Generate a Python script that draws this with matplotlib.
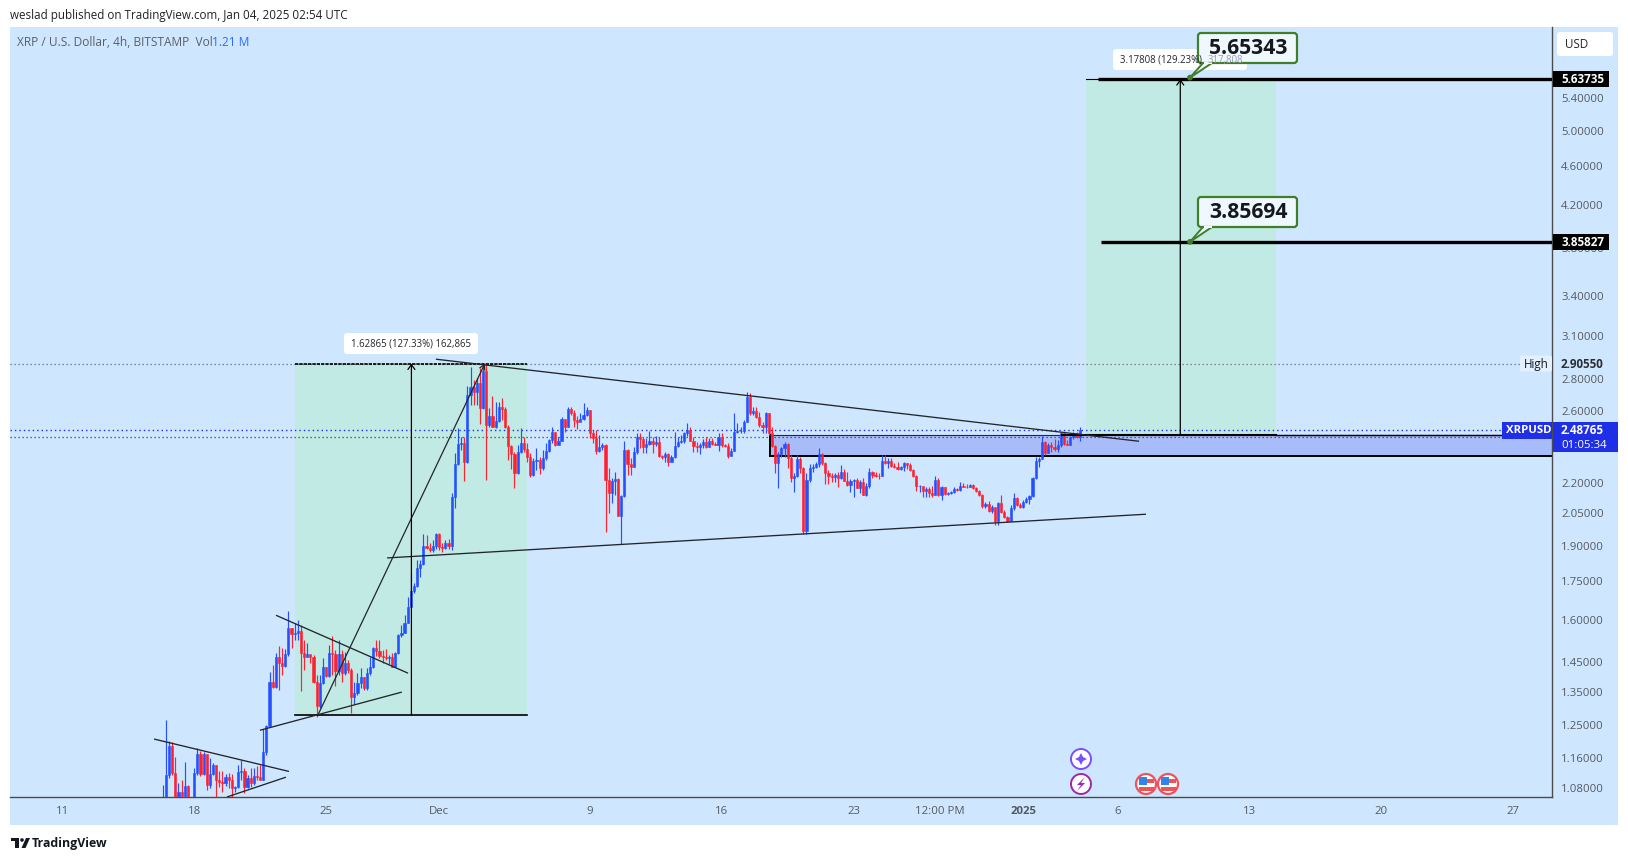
import matplotlib
matplotlib.use("Agg")
import matplotlib.pyplot as plt
from matplotlib.patches import Rectangle, FancyBboxPatch, Circle, Polygon
from matplotlib.transforms import IdentityTransform
from matplotlib.ticker import NullLocator, FixedLocator, FixedFormatter

# ---- 4h XRP/USD candles (Nov 16 08:00 .. Jan 4 00:00)
first_open = 1.030
closes = [
1.045,1.113,1.191,1.118,1.045,1.070,1.060,1.085,1.055,1.035,1.118,1.169,1.115,1.169,1.087,1.115,1.140,1.100,1.095,1.092,
1.108,1.100,1.080,1.083,1.121,1.123,1.083,1.105,1.092,1.110,1.108,1.102,1.175,1.248,1.383,1.367,1.465,1.445,1.435,1.476,
1.568,1.547,1.551,1.557,1.480,1.465,1.476,1.465,1.383,1.307,1.379,1.432,1.402,1.480,1.476,1.419,1.476,1.412,1.445,1.422,
1.335,1.348,1.379,1.399,1.364,1.412,1.432,1.497,1.487,1.469,1.465,1.463,1.467,1.432,1.480,1.543,1.550,1.586,1.646,1.709,
1.729,1.803,1.820,1.899,1.890,1.881,1.899,1.952,1.894,1.890,1.912,1.899,2.128,2.298,2.408,2.413,2.309,2.699,2.749,2.718,
2.775,2.618,2.854,2.516,2.570,2.504,2.540,2.624,2.612,2.504,2.396,2.352,2.250,2.363,2.413,2.380,2.335,2.240,2.314,2.319,
2.276,2.330,2.368,2.430,2.476,2.402,2.424,2.552,2.504,2.612,2.588,2.546,2.534,2.552,2.576,2.606,2.470,2.441,2.368,2.391,
2.402,2.214,2.148,2.209,2.219,2.036,2.133,2.374,2.298,2.282,2.363,2.447,2.436,2.391,2.408,2.424,2.408,2.419,2.341,2.335,
2.352,2.309,2.335,2.396,2.419,2.424,2.470,2.487,2.424,2.396,2.394,2.402,2.419,2.391,2.424,2.408,2.405,2.447,2.402,2.396,
2.341,2.368,2.476,2.481,2.484,2.534,2.687,2.588,2.600,2.564,2.516,2.504,2.588,2.470,2.396,2.303,2.352,2.385,2.408,2.330,
2.224,2.235,2.325,2.276,1.965,2.214,2.276,2.282,2.298,2.352,2.303,2.250,2.235,2.232,2.240,2.224,2.255,2.209,2.189,2.209,
2.214,2.173,2.204,2.138,2.183,2.255,2.240,2.237,2.235,2.314,2.303,2.314,2.287,2.282,2.271,2.282,2.303,2.293,2.266,2.235,
2.183,2.186,2.158,2.168,2.148,2.138,2.214,2.138,2.178,2.143,2.150,2.153,2.168,2.163,2.183,2.181,2.178,2.191,2.173,2.158,
2.138,2.085,2.094,2.059,2.080,2.012,2.098,2.055,2.031,2.012,2.075,2.123,2.089,2.080,2.103,2.118,2.133,2.224,2.314,2.325,
2.419,2.357,2.402,2.391,2.380,2.402,2.470,2.408,2.405,2.447,2.470,2.447,2.48765]
highs = [
1.087,1.265,1.205,1.202,1.161,1.092,1.100,1.148,1.087,1.058,1.131,1.185,1.177,1.175,1.166,1.158,1.145,1.140,1.123,1.123,
1.115,1.118,1.115,1.085,1.140,1.153,1.131,1.113,1.131,1.131,1.136,1.140,1.239,1.250,1.415,1.438,1.480,1.504,1.497,1.494,
1.631,1.568,1.586,1.597,1.579,1.525,1.515,1.472,1.472,1.405,1.405,1.462,1.432,1.508,1.539,1.490,1.525,1.490,1.483,1.455,
1.429,1.383,1.412,1.429,1.399,1.429,1.465,1.501,1.525,1.525,1.490,1.494,1.472,1.480,1.483,1.546,1.579,1.616,1.686,1.783,
1.741,1.837,1.837,1.952,1.947,1.912,1.925,1.956,1.956,1.912,1.925,1.930,2.148,2.357,2.498,2.447,2.447,2.755,2.881,2.795,
2.808,2.874,2.895,2.9055,2.618,2.693,2.655,2.655,2.680,2.624,2.516,2.402,2.363,2.402,2.498,2.447,2.413,2.357,2.330,2.385,
2.335,2.374,2.413,2.436,2.504,2.447,2.447,2.564,2.546,2.624,2.624,2.606,2.570,2.588,2.649,2.624,2.606,2.487,2.487,2.459,
2.413,2.408,2.276,2.224,2.255,2.224,2.138,2.424,2.380,2.330,2.391,2.470,2.470,2.447,2.441,2.481,2.447,2.453,2.447,2.346,
2.363,2.357,2.346,2.476,2.447,2.459,2.476,2.528,2.504,2.447,2.419,2.413,2.436,2.447,2.441,2.441,2.419,2.470,2.470,2.408,
2.413,2.385,2.588,2.528,2.504,2.546,2.718,2.711,2.624,2.624,2.594,2.534,2.594,2.588,2.504,2.402,2.363,2.391,2.419,2.413,
2.346,2.250,2.346,2.335,2.282,2.250,2.298,2.298,2.309,2.385,2.357,2.309,2.266,2.250,2.250,2.255,2.293,2.271,2.255,2.219,
2.219,2.224,2.214,2.224,2.199,2.276,2.261,2.255,2.250,2.346,2.346,2.330,2.330,2.303,2.309,2.287,2.309,2.303,2.303,2.271,
2.240,2.189,2.178,2.178,2.178,2.183,2.235,2.224,2.183,2.178,2.155,2.158,2.178,2.173,2.204,2.199,2.194,2.194,2.194,2.178,
2.163,2.143,2.103,2.108,2.089,2.075,2.103,2.138,2.064,2.036,2.089,2.148,2.128,2.098,2.113,2.128,2.138,2.229,2.335,2.335,
2.453,2.424,2.413,2.419,2.436,2.430,2.476,2.459,2.430,2.453,2.476,2.476,2.504]
lows = [
1.020,1.045,1.105,1.113,1.020,1.045,1.030,1.045,1.030,1.020,1.020,1.113,1.110,1.113,1.075,1.080,1.113,1.058,1.083,1.070,
1.085,1.080,1.058,1.070,1.080,1.100,1.068,1.080,1.083,1.087,1.100,1.100,1.100,1.166,1.248,1.364,1.364,1.357,1.405,1.432,
1.469,1.497,1.525,1.525,1.354,1.422,1.465,1.445,1.379,1.274,1.301,1.376,1.399,1.399,1.405,1.370,1.405,1.383,1.405,1.412,
1.286,1.314,1.341,1.364,1.357,1.357,1.405,1.429,1.469,1.462,1.445,1.455,1.442,1.432,1.432,1.476,1.536,1.550,1.586,1.650,
1.701,1.725,1.766,1.816,1.885,1.872,1.872,1.885,1.881,1.872,1.885,1.885,1.881,2.075,2.293,2.374,2.209,2.303,2.637,2.637,
2.637,2.522,2.612,2.214,2.504,2.504,2.498,2.534,2.546,2.498,2.319,2.271,2.173,2.245,2.357,2.363,2.309,2.229,2.235,2.266,
2.245,2.266,2.319,2.363,2.413,2.396,2.402,2.424,2.476,2.504,2.576,2.504,2.493,2.540,2.546,2.570,2.441,2.413,2.352,2.363,
2.374,1.961,2.050,2.098,2.138,2.036,1.907,2.128,2.240,2.240,2.282,2.352,2.385,2.357,2.357,2.402,2.357,2.396,2.335,2.325,
2.309,2.287,2.309,2.330,2.391,2.413,2.413,2.453,2.424,2.363,2.363,2.352,2.385,2.385,2.391,2.402,2.402,2.368,2.391,2.391,
2.330,2.346,2.368,2.470,2.470,2.470,2.534,2.576,2.576,2.558,2.504,2.470,2.470,2.459,2.391,2.250,2.173,2.335,2.335,2.276,
2.204,2.153,2.229,2.250,1.952,1.952,2.204,2.255,2.276,2.282,2.293,2.194,2.194,2.204,2.204,2.178,2.219,2.209,2.183,2.153,
2.128,2.173,2.148,2.138,2.133,2.173,2.224,2.229,2.219,2.235,2.298,2.276,2.282,2.276,2.266,2.266,2.261,2.271,2.261,2.229,
2.158,2.153,2.128,2.128,2.128,2.128,2.138,2.133,2.113,2.138,2.138,2.143,2.148,2.158,2.158,2.178,2.173,2.178,2.168,2.153,
2.133,2.075,2.075,2.055,2.050,1.994,1.994,2.050,2.026,2.008,2.012,2.064,2.085,2.075,2.075,2.098,2.094,2.128,2.219,2.282,
2.325,2.346,2.357,2.363,2.368,2.363,2.391,2.402,2.402,2.402,2.436,2.441,2.424]

last_candle_day = 54.0          # days after Nov 11 of the last 4h candle
bars_per_day = 6

# ---- axes
x_limits = (-2.776, 79.07)
y_limits = (1.058, 6.3654)
x_ticks = [0, 7, 14, 20, 28, 35, 42, 46.57, 51, 56, 63, 70, 77]
x_labels = ["11", "18", "25", "Dec", "9", "16", "23", "12:00 PM", "2025", "6", "13", "20", "27"]
y_ticks = [5.4, 5.0, 4.6, 4.2, 3.8, 3.4, 3.1, 2.8, 2.6, 2.2, 2.05, 1.9, 1.75, 1.6, 1.45, 1.35, 1.25, 1.16, 1.08]
y_labels = ["%.5f" % v for v in y_ticks]

# ---- drawings: (day, price, day, price)
trendlines = [
    (4.87, 1.211, 12.03, 1.123),
    (8.74, 1.058, 11.87, 1.108),
    (10.49, 1.236, 18.02, 1.351),
    (11.34, 1.616, 18.35, 1.412),
    (19.83, 2.935, 57.15, 2.424),
    (17.24, 1.847, 57.52, 2.045),
]
rally_arrow = (13.57, 1.281, 22.43, 2.9055)
high_price = 2.90550
last_price = 2.48765
grey_level = 2.451
zone = (37.55, 2.340, 2.462)
box_left = (12.35, 24.69, 1.281, 2.9055)
box_right = (54.34, 64.42, 2.462, 5.63735)
arrow_left_day = 18.53
arrow_right_day = 59.34
target_1 = (54.97, 5.63735)
target_2 = (55.13, 3.85827)
line_start_right = 53.06

BG = "#cfe6ff"
UP = "#2450ff"
DOWN = "#ff2030"
GREEN = "#c1eae5"
ZONE = "#a8bcf9"
DARK = "#4a4a4a"
GREY = "#555a60"
FONT = "Open Sans"
plt.rcParams["font.family"] = [FONT, "DejaVu Sans"]

W, H = 1628, 860
fig = plt.figure(figsize=(W / 100, H / 100), dpi=100, facecolor="white")
I = IdentityTransform()
def P(x, y):
    return (x, H - y)

fig.add_artist(Rectangle(P(10, 825), 1608, 798, transform=I, fc=BG, ec="none", zorder=-1))

ax = fig.add_axes([10 / W, 1 - 797 / H, 1542 / W, 770 / H], facecolor="none")
ax.set_yscale("log")
ax.set_xlim(*x_limits)
ax.set_ylim(*y_limits)
for s in ["left", "top"]:
    ax.spines[s].set_visible(False)
for s in ["right", "bottom"]:
    ax.spines[s].set_color(DARK)
    ax.spines[s].set_linewidth(1.0)
ax.yaxis.tick_right()
ax.yaxis.set_major_locator(FixedLocator(y_ticks))
ax.yaxis.set_major_formatter(FixedFormatter(y_labels))
ax.yaxis.set_minor_locator(NullLocator())
ax.xaxis.set_major_locator(FixedLocator(x_ticks))
ax.xaxis.set_major_formatter(FixedFormatter(x_labels))
ax.xaxis.set_minor_locator(NullLocator())
ax.tick_params(axis="y", length=0, pad=6.5, labelsize=8.2, labelcolor=GREY)
ax.tick_params(axis="x", length=0, pad=6.5, labelsize=8.2, labelcolor=GREY)
for t in ax.get_xticklabels():
    if t.get_text() == "2025":
        t.set_fontweight("bold")

# green measurement boxes and zone
for (a, b, lo, hi) in (box_left, box_right):
    ax.fill_between([a, b], lo, hi, color=GREEN, lw=0, zorder=1)
ax.fill_between([zone[0], x_limits[1]], zone[1], zone[2], color=ZONE, lw=0, zorder=1.5)
ax.plot([zone[0], zone[0]], [zone[1], zone[2]], color="black", lw=1.4, zorder=2)
ax.plot([zone[0], x_limits[1]], [zone[1], zone[1]], color="black", lw=1.4, zorder=2)
ax.plot([zone[0], x_limits[1]], [zone[2], zone[2]], color="#23273a", lw=0.8, zorder=2)
ax.plot([line_start_right, box_right[1]], [zone[2], zone[2]], color="black", lw=1.5, zorder=4)
ax.plot([box_right[1], x_limits[1]], [zone[2], zone[2]], color="black", lw=1.0, zorder=4)
ax.plot(box_left[:2], [box_left[2], box_left[2]], color="black", lw=1.2, zorder=4)
ax.plot(box_left[:2], [box_left[3], box_left[3]], color="black", lw=1.2, ls=(0, (2, 0.6)), zorder=4)

# level lines
ax.axhline(high_price, color="#666b70", lw=0.9, ls=(0, (1, 2.2)), zorder=1.8)
ax.axhline(grey_level, color="#3c3f44", lw=0.9, ls=(0, (1, 2.2)), zorder=1.8)
ax.axhline(last_price, color="#1f2fe8", lw=1.0, ls=(0, (1, 2.2)), zorder=1.8)

# candles
n = len(closes)
days = [last_candle_day - (n - 1 - i) / bars_per_day for i in range(n)]
opens = [first_open] + closes[:-1]
colors = [UP if c >= o else DOWN for o, c in zip(opens, closes)]
ax.vlines(days, lows, highs, colors=colors, lw=0.85, zorder=3)
ax.bar(days, [abs(c - o) for o, c in zip(opens, closes)],
       bottom=[min(o, c) for o, c in zip(opens, closes)],
       width=0.115, color=colors, edgecolor=colors, linewidth=0.4, zorder=3.2)

# trend lines
for (x0, y0, x1, y1) in trendlines:
    ax.plot([x0, x1], [y0, y1], color="#22262a", lw=0.95, zorder=4, solid_capstyle="butt")
ax.annotate("", xy=rally_arrow[2:], xytext=rally_arrow[:2], zorder=4,
            arrowprops=dict(arrowstyle="->,head_length=0.35,head_width=0.2", color="#22262a", lw=0.9,
                            shrinkA=0, shrinkB=0))
ax.annotate("", xy=(arrow_left_day, box_left[3]), xytext=(arrow_left_day, box_left[2]), zorder=4,
            arrowprops=dict(arrowstyle="->,head_length=0.35,head_width=0.25", color="black", lw=0.9,
                            shrinkA=0, shrinkB=0))
ax.annotate("", xy=(arrow_right_day, box_right[3]), xytext=(arrow_right_day, box_right[2]), zorder=4,
            arrowprops=dict(arrowstyle="->,head_length=0.35,head_width=0.25", color="black", lw=0.9,
                            shrinkA=0, shrinkB=0))

# target lines
ax.plot([box_right[0], target_1[0]], [target_1[1], target_1[1]], color="black", lw=0.8, zorder=4)
ax.plot([target_1[0], x_limits[1]], [target_1[1], target_1[1]], color="black", lw=2.4, zorder=4.2, solid_capstyle="butt")
ax.plot([target_2[0], x_limits[1]], [target_2[1], target_2[1]], color="black", lw=2.4, zorder=4.2, solid_capstyle="butt")

fig.canvas.draw()
def ypx(price):
    return H - ax.transData.transform((0, price))[1]

# ---- page chrome (pixel placed)
def T(x, y, s, **kw):
    kw.setdefault("va", "center")
    kw.setdefault("ha", "left")
    kw.setdefault("zorder", 8)
    return fig.text(x, H - y, s, transform=I, **kw)

def box(x0, y0, x1, y1, fc, ec="none", lw=0, r=0, z=6):
    if r:
        p = FancyBboxPatch(P(x0, y1), x1 - x0, y1 - y0, boxstyle="round,pad=0,rounding_size=%g" % r,
                           transform=I, fc=fc, ec=ec, lw=lw, zorder=z)
    else:
        p = Rectangle(P(x0, y1), x1 - x0, y1 - y0, transform=I, fc=fc, ec=ec, lw=lw, zorder=z)
    fig.add_artist(p)

T(10, 15.5, "weslad published on TradingView.com, Jan 04, 2025 02:54 UTC", fontsize=8.4, color="#1f2328")
T(17, 42.5, "XRP / U.S. Dollar, 4h, BITSTAMP  Vol", fontsize=8.55, color="#5b6066")
T(212, 42.5, "1.21 M", fontsize=8.55, color="#2f6bff")

# measure labels
box(344, 333, 478, 354, "white", r=3)
T(411, 344, "1.62865 (127.33%) 162,865", ha="center", fontsize=6.9, color="#23272b")
box(1113, 49, 1247, 70, "white", r=3)
T(1120, 60, "3.17808 (129.23%)", fontsize=6.9, color="#23272b")
T(1208, 60, "317,808", fontsize=6.9, color="#9aa0a6")

# callouts
G = "#3f7f27"
for (top, bot, tip, s) in [(33, 63, ypx(target_1[1]) - 1.5, "5.65343"), (197, 227, ypx(target_2[1]), "3.85694")]:
    box(1198, top, 1297, bot, "#eff7ff", ec=G, lw=1.6, r=3, z=7)
    fig.add_artist(Polygon([P(1203, bot), P(1190, tip), P(1212, bot)], closed=True, transform=I,
                           fc="#eff7ff", ec=G, lw=1.4, zorder=7.1))
    box(1203.5, bot - 1.2, 1211.5, bot + 1.0, "#eff7ff", z=7.2)
    fig.add_artist(Circle(P(1190, tip), 2.2, transform=I, fc=G, ec=G, zorder=7.3))
    T(1248, (top + bot) / 2 + 1, s, ha="center", fontsize=15.2, fontweight="bold", color="#15191e")

# right axis tags
def tag(price, s):
    y = ypx(price)
    box(1552.5, y - 8, 1609, y + 8, "black", z=7)
    T(1561, y + 0.5, s, fontsize=8.4, fontweight="bold", color="white")
tag(target_1[1], "5.63735")
tag(target_2[1], "3.85827")

y = ypx(high_price)
box(1520, y - 8, 1552, y + 8, "#e3f0ff", r=2, z=6)
T(1524, y + 0.5, "High", fontsize=8.4, color="#15191e")
T(1561, y + 0.5, "2.90550", fontsize=8.4, fontweight="bold", color="#2a2e33")

y = ypx(last_price)
BLUE = "#1f2fe8"
box(1502, y - 8, 1552, y + 9, BLUE, z=6)
T(1506, y + 0.5, "XRPUSD", fontsize=8.2, fontweight="bold", color="white")
box(1552.5, y - 8, 1618, y + 22, BLUE, z=6)
T(1561, y + 0.5, "2.48765", fontsize=8.4, fontweight="bold", color="white")
T(1561, y + 15, "01:05:34", fontsize=8.2, color="white")

box(1557, 32, 1613, 56, "white", r=3)
T(1565, 44.5, "USD", fontsize=8.4, color="#23272b")

# event icons
def circ(x, y, r, fc, ec, lw=1.4, z=7):
    fig.add_artist(Circle(P(x, y), r, transform=I, fc=fc, ec=ec, lw=lw, zorder=z))
circ(1081, 759, 10, "white", "#7b4dff")
fig.add_artist(Polygon([P(1081, 753), P(1083, 757), P(1087, 759), P(1083, 761), P(1081, 765),
                        P(1079, 761), P(1075, 759), P(1079, 757)], closed=True, transform=I,
                       fc="#7b4dff", ec="none", zorder=7.2))
circ(1081, 784, 10, "white", "#9c27b0")
fig.add_artist(Polygon([P(1085, 777), P(1077, 785), P(1081, 785), P(1077, 791), P(1085, 783), P(1081, 783)],
                       closed=True, transform=I, fc="#9c27b0", ec="none", zorder=7.2))
for cx in (1146, 1168):
    circ(cx, 784, 10, "white", "#f0525a", lw=1.6)
    for yy in (779, 787):
        box(cx - 7.5, yy, cx + 7.5, yy + 4, "#f0525a", z=7.1)
    box(cx - 7.5, 777, cx + 0.5, 785, "#2f86e8", z=7.2)

# footer logo
box(11, 838, 19, 841, "#131722", z=8)
box(15, 838, 19, 848, "#131722", z=8)
fig.add_artist(Polygon([P(26, 838), P(30, 838), P(25.5, 848), P(21.5, 848)], closed=True, transform=I,
                       fc="#131722", ec="none", zorder=8))
fig.add_artist(Circle(P(22, 840), 1.8, transform=I, fc="#131722", ec="none", zorder=8))
T(32, 843, "TradingView", fontsize=8.9, fontweight="bold", color="#131722")

fig.savefig("out.png", dpi=100)
